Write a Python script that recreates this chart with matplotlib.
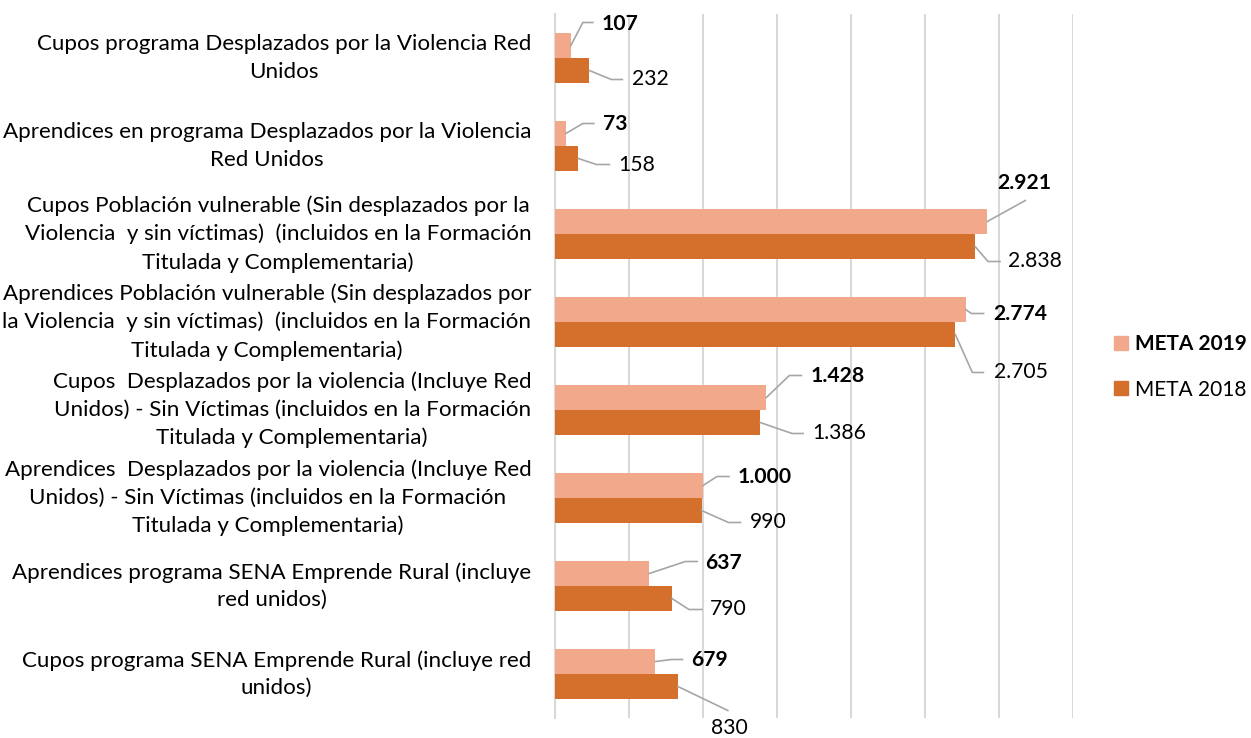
import numpy as np
import matplotlib
matplotlib.use("Agg")
from matplotlib import pyplot as plt
from matplotlib.patches import Patch

plt.rcParams['font.family'] = ['Lato', 'DejaVu Sans']

categories = [
    "Cupos programa Desplazados por la Violencia Red\nUnidos",
    "Aprendices en programa Desplazados por la Violencia\nRed Unidos",
    "Cupos Población vulnerable (Sin desplazados por la\nViolencia  y sin víctimas)  (incluidos en la Formación\nTitulada y Complementaria)",
    "Aprendices Población vulnerable (Sin desplazados por\nla Violencia  y sin víctimas)  (incluidos en la Formación\nTitulada y Complementaria)",
    "Cupos  Desplazados por la violencia (Incluye Red\nUnidos) - Sin Víctimas (incluidos en la Formación\nTitulada y Complementaria)",
    "Aprendices  Desplazados por la violencia (Incluye Red\nUnidos) - Sin Víctimas (incluidos en la Formación\nTitulada y Complementaria)",
    "Aprendices programa SENA Emprende Rural (incluye\nred unidos)",
    "Cupos programa SENA Emprende Rural (incluye red\nunidos)",
]
meta_2019 = [107, 73, 2921, 2774, 1428, 1000, 637, 679]
meta_2018 = [232, 158, 2838, 2705, 1386, 990, 790, 830]

# label placement, pixel offsets from bar end (dx right, dy down)
text19 = [(31, -22), (37, -10), (10, -39), (28, 4), (44, -22), (35, -9), (56, -11), (36, -2)]
elbow19 = [(12, -23), (17, -10), (38, -21), (6, 4), (23, -22), (14, -9), (36, -12), (16, -2)]
end19 = [(22, -23), (28, -10), (38, -21), (18, 4), (35, -22), (26, -9), (48, -12), (27, -2)]
text18 = [(43, 9), (40, 7), (33, 15), (39, 38), (52, 11), (48, 12), (38, 11), (33, 42)]
elbow18 = [(22, 9), (18, 6), (13, 15), (17, 38), (32, 11), (27, 12), (17, 11), (50, 24)]
end18 = [(33, 9), (31, 6), (25, 15), (28, 38), (43, 11), (39, 12), (30, 11), (50, 24)]

c19 = "#F2A98B"
c18 = "#D4702C"
grid_c = "#D9D9D9"
lead_c = "#A6A6A6"

fig = plt.figure(figsize=(12.51, 7.38), dpi=100)
ax = fig.add_axes([555 / 1251, 20 / 738, 518 / 1251, 704 / 738])

y = np.arange(len(categories))
h = 0.284
ax.barh(y - h / 2, meta_2019, height=h, color=c19, label="META 2019", zorder=3)
ax.barh(y + h / 2, meta_2018, height=h, color=c18, label="META 2018", zorder=3)

ax.set_xlim(0, 3500)
ax.set_ylim(len(categories) - 0.5, -0.5)
ax.set_xticks(np.arange(0, 3501, 500))
ax.set_xticklabels([])
ax.set_yticks(y)
ax.set_yticklabels(categories, fontsize=16.1, linespacing=1.47)
for t in ax.get_yticklabels():
    t.set_multialignment("center")
    t.set_verticalalignment("center")
ax.tick_params(axis="both", length=0)
ax.tick_params(axis="y", pad=17)
ax.grid(axis="x", color=grid_c, linewidth=1.5, zorder=0)
for s in ["top", "right", "bottom"]:
    ax.spines[s].set_visible(False)
ax.spines["left"].set_color(grid_c)
ax.spines["left"].set_linewidth(1.5)


def off(x, yy, dx, dy):
    X, Y = ax.transData.transform((x, yy))
    return ax.transData.inverted().transform((X + dx, Y - dy))


def fmt(v):
    return f"{v:,}".replace(",", ".")


for vals, ypos, tx, el, en, bold in [
    (meta_2019, y - h / 2, text19, elbow19, end19, True),
    (meta_2018, y + h / 2, text18, elbow18, end18, False),
]:
    for i, v in enumerate(vals):
        p1 = off(v, ypos[i], 0, 0)
        p2 = off(v, ypos[i], *el[i])
        p3 = off(v, ypos[i], *en[i])
        ax.plot([p1[0], p2[0], p3[0]], [p1[1], p2[1], p3[1]], color=lead_c,
                linewidth=1.2, clip_on=False, zorder=4)
        pt = off(v, ypos[i], *tx[i])
        ax.text(pt[0], pt[1], fmt(v), ha="left", va="center", fontsize=15.2,
                fontweight="bold" if bold else "normal", clip_on=False)

handles = [Patch(color=c19, label="META 2019"), Patch(color=c18, label="META 2018")]
leg = fig.legend(handles=handles, loc="center left", bbox_to_anchor=(1114 / 1251, 1 - 367 / 738),
                 frameon=False, fontsize=15, handlelength=0.65, handleheight=0.65,
                 handletextpad=0.35, labelspacing=1.2, borderpad=0, borderaxespad=0)
leg.get_texts()[0].set_fontweight("bold")

fig.savefig("out.png", dpi=100)
